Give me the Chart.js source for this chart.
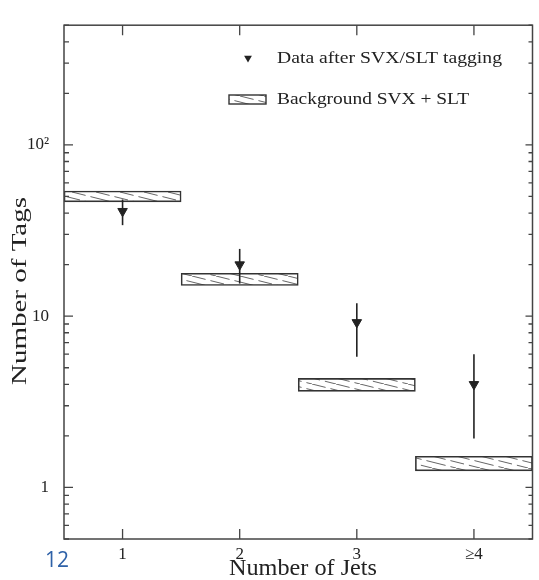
<!DOCTYPE html>
<html>
<head>
<meta charset="utf-8">
<script src="https://cdn.jsdelivr.net/npm/chart.js@4.4.1/dist/chart.umd.min.js"></script>
<style>
  html, body { margin: 0; padding: 0; background: #fff; }
  canvas { display: block; }
</style>
</head>
<body>
<canvas id="c" width="539" height="580"></canvas>
<script>
// Jet multiplicity bins
const jetBins = ['1', '2', '3', '≥4'];

// Tagged data: central values and error bar ends
const tagCounts  = [41, 20, 9.2, 4];
const tagErrLow  = [34, 15.5, 5.8, 1.93];
const tagErrHigh = [48, 24.7, 11.9, 6];

// Expected background band (lower / upper edge)
const bkgLow  = [46.5, 15.1, 3.64, 1.25];
const bkgHigh = [53.8, 17.8, 4.33, 1.52];

// Log axis tick positions and the labelled ones
const yTickValues = [0.5, 0.6, 0.7, 0.8, 0.9,
  1, 2, 3, 4, 5, 6, 7, 8, 9,
  10, 20, 30, 40, 50, 60, 70, 80, 90,
  100, 200, 300, 400, 500];
const yTickLabels = { 1: '1', 10: '10', 100: '10²' };

const legendLabels = ['Data after SVX/SLT tagging', 'Background SVX + SLT'];
const xTitle = 'Number of Jets';
const yTitle = 'Number of Tags';
const pageNumber = '12';

const INK = '#222';
const SERIF = '"Liberation Serif", "Times New Roman", serif';

// Shallow diagonal hatch used for the background band
function makeHatch() {
  const w = 48, h = 12;
  const c = document.createElement('canvas');
  c.width = w; c.height = h;
  const g = c.getContext('2d');
  g.fillStyle = '#fff';
  g.fillRect(0, 0, w, h);
  g.strokeStyle = '#666';
  g.lineWidth = 1;
  g.setLineDash([14, 5]);
  g.beginPath();
  g.moveTo(0, 0); g.lineTo(w, h);
  g.moveTo(0, h / 2); g.lineTo(w / 2, h);
  g.moveTo(w / 2, 0); g.lineTo(w, h / 2);
  g.stroke();
  return g.createPattern(c, 'repeat');
}
const hatch = makeHatch();

function drawDownTriangle(ctx, x, y, r) {
  ctx.beginPath();
  ctx.moveTo(x - r * 0.87, y - r * 0.5);
  ctx.lineTo(x + r * 0.87, y - r * 0.5);
  ctx.lineTo(x, y + r);
  ctx.closePath();
  ctx.fill();
}

function stretchedText(ctx, text, x, y, font, targetWidth, align) {
  ctx.save();
  ctx.font = font;
  const w = ctx.measureText(text).width;
  const s = targetWidth ? targetWidth / w : 1;
  ctx.translate(x, y);
  ctx.scale(s, 1);
  ctx.textAlign = align || 'left';
  ctx.fillText(text, 0, 0);
  ctx.restore();
}

const errorBars = {
  id: 'errorBars',
  afterDatasetDraw(chart, args) {
    if (args.index !== 0) return;
    const { ctx, scales: { x, y } } = chart;
    ctx.save();
    ctx.strokeStyle = '#222';
    ctx.lineWidth = 1.6;
    tagCounts.forEach((v, i) => {
      const px = x.getPixelForValue(i);
      ctx.beginPath();
      ctx.moveTo(px, y.getPixelForValue(tagErrLow[i]));
      ctx.lineTo(px, y.getPixelForValue(tagErrHigh[i]));
      ctx.stroke();
    });
    ctx.restore();
  }
};

const frameAndText = {
  id: 'frameAndText',
  afterDraw(chart) {
    const { ctx, chartArea: a, scales: { x, y } } = chart;
    ctx.save();
    ctx.strokeStyle = '#444';
    ctx.lineWidth = 1.5;
    ctx.strokeRect(a.left, a.top, a.right - a.left, a.bottom - a.top);

    // inward tick marks on all four sides
    ctx.lineWidth = 1.3;
    ctx.beginPath();
    yTickValues.forEach(v => {
      const py = y.getPixelForValue(v);
      const major = yTickLabels[v] !== undefined;
      const L = major ? 9 : 5;
      ctx.moveTo(a.left, py); ctx.lineTo(a.left + L, py);
      ctx.moveTo(a.right, py); ctx.lineTo(a.right - (major ? 7 : 4), py);
    });
    jetBins.forEach((b, i) => {
      const px = x.getPixelForValue(i);
      ctx.moveTo(px, a.bottom); ctx.lineTo(px, a.bottom - 10);
      ctx.moveTo(px, a.top); ctx.lineTo(px, a.top + 10);
    });
    ctx.stroke();

    // legend
    ctx.fillStyle = '#222';
    drawDownTriangle(ctx, 248, 58, 4.5);
    ctx.fillStyle = hatch;
    ctx.fillRect(229, 95, 37, 9);
    ctx.strokeStyle = '#333';
    ctx.lineWidth = 1.4;
    ctx.strokeRect(229, 95, 37, 9);
    ctx.fillStyle = INK;
    ctx.textBaseline = 'middle';
    stretchedText(ctx, legendLabels[0], 277, 59, '17px ' + SERIF, 225);
    stretchedText(ctx, legendLabels[1], 277, 100, '17px ' + SERIF, 192);

    // axis titles
    stretchedText(ctx, xTitle, 303, 569, '23px ' + SERIF, 148, 'center');
    ctx.save();
    ctx.translate(20, 291);
    ctx.rotate(-Math.PI / 2);
    stretchedText(ctx, yTitle, 0, 0, '22px ' + SERIF, 188, 'center');
    ctx.restore();

    // page number
    ctx.fillStyle = '#2f62a8';
    ctx.font = '21px "Open Sans", "Liberation Sans", sans-serif';
    ctx.textAlign = 'left';
    ctx.fillText(pageNumber, 45, 561);
    ctx.restore();
  }
};

new Chart(document.getElementById('c'), {
  data: {
    labels: jetBins,
    datasets: [
      {
        type: 'bar',
        label: legendLabels[1],
        data: bkgLow.map((lo, i) => [lo, bkgHigh[i]]),
        backgroundColor: hatch,
        borderColor: '#333',
        borderWidth: 1.6,
        borderSkipped: false,
        barPercentage: 1,
        categoryPercentage: 1,
        order: 2
      },
      {
        type: 'line',
        label: legendLabels[0],
        data: tagCounts,
        showLine: false,
        pointStyle: 'triangle',
        rotation: 180,
        pointRadius: 5.5,
        pointBackgroundColor: '#222',
        pointBorderColor: '#222',
        pointBorderWidth: 1,
        order: 1
      }
    ]
  },
  options: {
    responsive: false,
    devicePixelRatio: 1,
    animation: false,
    layout: { padding: { top: 12, right: 2, left: 0, bottom: 0 } },
    plugins: { legend: { display: false }, tooltip: { enabled: false } },
    scales: {
      x: {
        type: 'category',
        offset: true,
        grid: { display: false, drawTicks: false },
        border: { display: false },
        ticks: { color: INK, padding: 5, font: { family: SERIF, size: 17 }, maxRotation: 0 },
        afterFit: s => { s.height = 41; }
      },
      y: {
        type: 'logarithmic',
        min: 0.5,
        max: 500,
        grid: { display: false, drawTicks: false },
        border: { display: false },
        afterBuildTicks: s => {
          s.ticks = yTickValues.map(v => ({ value: v, major: yTickLabels[v] !== undefined }));
        },
        ticks: {
          autoSkip: false,
          color: INK,
          padding: 15,
          font: { family: SERIF, size: 17 },
          callback: v => yTickLabels[v] || ''
        },
        afterFit: s => { s.width = 64; }
      }
    }
  },
  plugins: [errorBars, frameAndText]
});
</script>
</body>
</html>
